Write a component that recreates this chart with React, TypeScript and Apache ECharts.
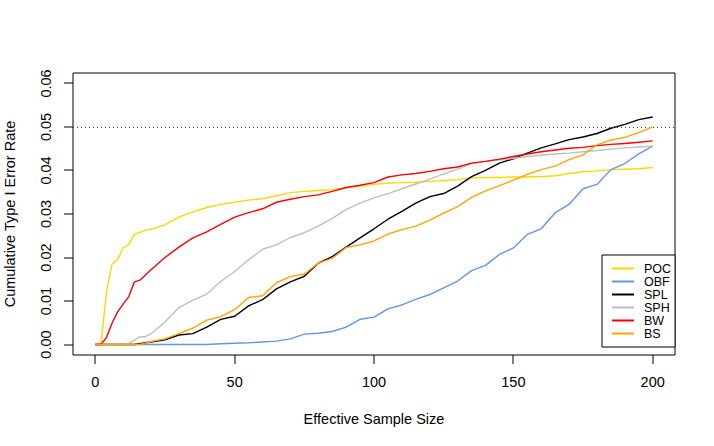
import React, { useEffect, useRef } from "react";
import * as echarts from "echarts";

const sampleSize = [0, 2, 4, 6, 8, 10, 12, 14, 16, 18, 20, 25, 30, 35, 40, 45, 50, 55, 60, 65, 70, 75, 80, 85, 90, 95, 100, 105, 110, 115, 120, 125, 130, 135, 140, 145, 150, 155, 160, 165, 170, 175, 180, 185, 190, 195, 200];

const POC = [0, 0, 0.012, 0.0185, 0.0195, 0.0222, 0.023, 0.0253, 0.0258, 0.0263, 0.0265, 0.0275, 0.0293, 0.0305, 0.0315, 0.0322, 0.0327, 0.0332, 0.0335, 0.0342, 0.0349, 0.0352, 0.0354, 0.0356, 0.036, 0.0364, 0.0368, 0.0371, 0.0372, 0.0373, 0.0375, 0.0377, 0.0379, 0.0383, 0.0384, 0.0384, 0.0385, 0.0385, 0.0386, 0.0388, 0.0393, 0.0397, 0.0399, 0.0402, 0.0403, 0.0404, 0.0407];
const OBF = [0, 0, 0, 0, 0, 0, 0, 0, 0, 0, 0, 0, 0, 0, 0, 0.0002, 0.0003, 0.0004, 0.0006, 0.0008, 0.0013, 0.0024, 0.0026, 0.003, 0.004, 0.0058, 0.0063, 0.0082, 0.0091, 0.0104, 0.0115, 0.013, 0.0146, 0.017, 0.0182, 0.0207, 0.0222, 0.0253, 0.0266, 0.0303, 0.0322, 0.0358, 0.0368, 0.0402, 0.0416, 0.0438, 0.0456];
const SPL = [0, 0, 0, 0, 0, 0, 0, 0, 0.0002, 0.0004, 0.0006, 0.0011, 0.0022, 0.0025, 0.004, 0.0058, 0.0065, 0.0089, 0.0103, 0.0128, 0.0144, 0.0157, 0.0187, 0.0202, 0.0224, 0.0245, 0.0266, 0.0288, 0.0306, 0.0325, 0.034, 0.0347, 0.0364, 0.0386, 0.04, 0.0417, 0.0427, 0.044, 0.0452, 0.0461, 0.0471, 0.0477, 0.0485, 0.0497, 0.0506, 0.0517, 0.0523];
const SPH = [0, 0, 0, 0, 0, 0, 0.0003, 0.001, 0.0018, 0.0018, 0.0025, 0.0052, 0.0085, 0.0102, 0.0116, 0.0145, 0.0168, 0.0195, 0.0219, 0.0229, 0.0246, 0.0257, 0.0272, 0.029, 0.031, 0.0325, 0.0337, 0.0347, 0.0358, 0.0369, 0.038, 0.0392, 0.0403, 0.0416, 0.0421, 0.0424, 0.0428, 0.0432, 0.0435, 0.0438, 0.044, 0.0443, 0.0446, 0.0449, 0.0452, 0.0454, 0.0456];
const BW = [0, 0, 0.0016, 0.0049, 0.0075, 0.0093, 0.011, 0.0144, 0.0148, 0.016, 0.0172, 0.02, 0.0224, 0.0245, 0.0259, 0.0276, 0.0293, 0.0303, 0.0312, 0.0327, 0.0334, 0.034, 0.0344, 0.0352, 0.0361, 0.0366, 0.0372, 0.0385, 0.039, 0.0393, 0.0398, 0.0404, 0.0408, 0.0417, 0.0421, 0.0426, 0.0432, 0.0438, 0.0443, 0.0447, 0.0451, 0.0453, 0.0457, 0.046, 0.0462, 0.0465, 0.0468];
const BS = [0, 0, 0, 0, 0, 0, 0, 0, 0, 0.0003, 0.0007, 0.0013, 0.0025, 0.0038, 0.0056, 0.0064, 0.008, 0.0108, 0.0112, 0.0142, 0.0156, 0.0162, 0.0187, 0.0198, 0.0223, 0.0229, 0.0238, 0.0254, 0.0264, 0.0272, 0.0286, 0.0302, 0.0317, 0.0338, 0.0353, 0.0365, 0.0378, 0.0391, 0.0402, 0.041, 0.0425, 0.0436, 0.0459, 0.047, 0.0476, 0.0487, 0.05];

const xTicks = [0, 50, 100, 150, 200];
const yTicks = [0, 0.01, 0.02, 0.03, 0.04, 0.05, 0.06];
const alphaLevel = 0.05;

const seriesNames = ["POC", "OBF", "SPL", "SPH", "BW", "BS"];
const seriesValues = [POC, OBF, SPL, SPH, BW, BS];
const seriesColors = ["#FFD700", "#6495ED", "#000000", "#BEBEBE", "#FF0000", "#FFA500"];

const FONT = "'Liberation Sans', Arial, Helvetica, sans-serif";
const X_MIN = -8;
const X_MAX = 208;
const Y_MIN = -0.0024;
const Y_MAX = 0.0624;

export default function App() {
  const ref = useRef<HTMLDivElement>(null);
  useEffect(() => {
    if (!ref.current) return;
    const chart = echarts.init(ref.current, undefined, { renderer: "svg" });
    const series: any[] = seriesNames.map((name, k) => ({
      name,
      type: "line",
      data: sampleSize.map((x, i) => [x, seriesValues[k][i]]),
      symbol: "none",
      showSymbol: false,
      lineStyle: { color: seriesColors[k], width: 1.4 },
      itemStyle: { color: seriesColors[k] },
      z: 2 + k,
    }));
    series[0].markLine = {
      silent: true,
      symbol: ["none", "none"],
      label: { show: false },
      lineStyle: { color: "#444", width: 1, type: [1, 3] },
      data: [{ yAxis: alphaLevel }],
    };
    chart.setOption({
      animation: false,
      backgroundColor: "#ffffff",
      textStyle: { fontFamily: FONT },
      grid: {
        left: 73,
        top: 73,
        width: 602,
        height: 282,
        containLabel: false,
        outerBoundsMode: "none",
        show: true,
        borderColor: "#000",
        borderWidth: 1,
        backgroundColor: "transparent",
      },
      legend: {
        orient: "vertical",
        left: 602,
        top: 255,
        width: 73,
        height: 100,
        padding: [7, 4, 7, 10],
        itemGap: 0,
        itemWidth: 22,
        itemHeight: 14,
        borderColor: "#000",
        borderWidth: 1,
        borderRadius: 0,
        backgroundColor: "#fff",
        data: seriesNames.map((n) => ({ name: n, icon: "path://M0,6 L22,6 L22,8 L0,8 Z" })),
        textStyle: { fontSize: 12.5, color: "#000", fontFamily: FONT, padding: [0, 0, 0, 5] },
      },
      xAxis: {
        type: "value",
        min: X_MIN,
        max: X_MAX,
        name: "Effective Sample Size",
        nameLocation: "middle",
        nameGap: 56,
        nameTextStyle: { fontSize: 14.5, color: "#000", fontFamily: FONT },
        axisLine: { show: false, onZero: false },
        splitLine: { show: false },
        axisTick: { show: false },
        axisLabel: { customValues: xTicks, margin: 19, fontSize: 14.5, color: "#000", fontFamily: FONT },
      },
      yAxis: {
        type: "value",
        min: Y_MIN,
        max: Y_MAX,
        name: "Cumulative Type I Error Rate",
        nameLocation: "middle",
        nameRotate: 90,
        nameGap: 56,
        nameTextStyle: { fontSize: 14.5, color: "#000", fontFamily: FONT },
        axisLine: { show: false, onZero: false },
        splitLine: { show: false },
        axisTick: { show: false },
        axisLabel: {
          customValues: yTicks,
          rotate: 90,
          margin: 20,
          fontSize: 14.5,
          color: "#000",
          fontFamily: FONT,
          formatter: (v: number) => v.toFixed(2),
        },
      },
      series,
    });
    // tick marks placed through the chart's own scales
    const tickEls: any[] = [];
    xTicks.forEach((t) => {
      const p = chart.convertToPixel({ gridIndex: 0 }, [t, Y_MIN]) as number[];
      tickEls.push({ type: "rect", silent: true, z: 50, shape: { x: Math.round(p[0]) - 0.5, y: p[1], width: 1, height: 9 }, style: { fill: "#000" } });
    });
    yTicks.forEach((t) => {
      const p = chart.convertToPixel({ gridIndex: 0 }, [X_MIN, t]) as number[];
      tickEls.push({ type: "rect", silent: true, z: 50, shape: { x: p[0] - 9, y: Math.round(p[1]) - 0.5, width: 9, height: 1 }, style: { fill: "#000" } });
    });
    chart.setOption({ graphic: { elements: tickEls } });
    return () => chart.dispose();
  }, []);
  return <div ref={ref} style={{ width: 714, height: 446, position: "absolute", left: 0, top: 0 }} />;
}
